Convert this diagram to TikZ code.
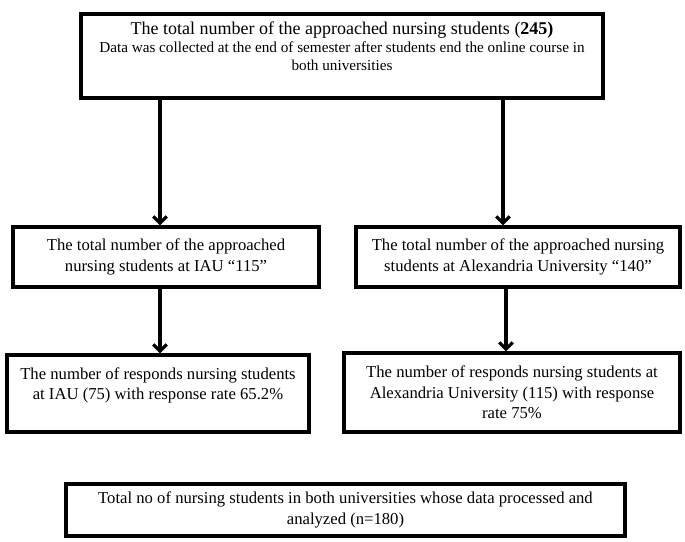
\documentclass[tikz,border=0pt]{standalone}
\usepackage{fontspec}
\setmainfont{Liberation Serif}
\usetikzlibrary{positioning,arrows.meta}
\tikzset{
flownode/.style={rectangle, draw=black, line width=2.5pt, inner sep=0pt, align=center,
                 font=\fontsize{12.5}{15.5}\selectfont},
flowarrow/.style={->, line width=2.4pt},
>={Straight Barb[length=5pt,width=10pt]}
}
% text kept at the top of a box of fixed height
\newcommand{\toplines}[3]{\parbox[c][#2][t]{#1}{\centering #3\par}}

\begin{document}
\begin{tikzpicture}[x=0.75pt, y=-0.75pt]
\useasboundingbox (0,0) rectangle (685,542);

%Flow nodes
\node[flownode, minimum width=391.5pt, minimum height=63pt] (total) at(342,56)
  {\toplines{385pt}{52pt}{{\fontsize{13.5}{15}\selectfont The total number of the approached nursing students (\textbf{245)}\par}
   {\fontsize{11.4}{13.5}\selectfont Data was collected at the end of semester after students end the online course in\\
   both universities\par}}};
\node[flownode, minimum width=229.5pt, minimum height=45pt] (iau) at(166,257)
  {The total number of the approached\\nursing students at IAU “115”};
\node[flownode, minimum width=243pt, minimum height=45pt] (alex) at(518,257)
  {The total number of the approached nursing\\students at Alexandria University “140”};
\node[flownode, minimum width=226.5pt, minimum height=57.75pt] (iauResp) at(158,393.5)
  {\toplines{222pt}{39pt}{The number of responds nursing students\\at IAU (75) with response rate 65.2\%}};
\node[flownode, minimum width=252pt, minimum height=59.25pt] (alexResp) at(512,392.5)
  {The number of responds nursing students at\\Alexandria University (115) with response\\rate 75\%};
\node[flownode, minimum width=419.25pt, minimum height=39pt] (final) at(345.5,510)
  {Total no of nursing students in both universities whose data processed and\\analyzed (n=180)};

\draw[flowarrow] ([xshift=-4.5pt]iau.north |- total.south) -- ([xshift=-4.5pt]iau.north);
\draw[flowarrow] ([xshift=-11.25pt]alex.north |- total.south) -- ([xshift=-11.25pt]alex.north);
\draw[flowarrow] ([xshift=1.5pt]iauResp.north |- iau.south) -- ([xshift=1.5pt]iauResp.north);
\draw[flowarrow] ([xshift=-4.5pt]alexResp.north |- alex.south) -- ([xshift=-4.5pt]alexResp.north);

\end{tikzpicture}
\end{document}
